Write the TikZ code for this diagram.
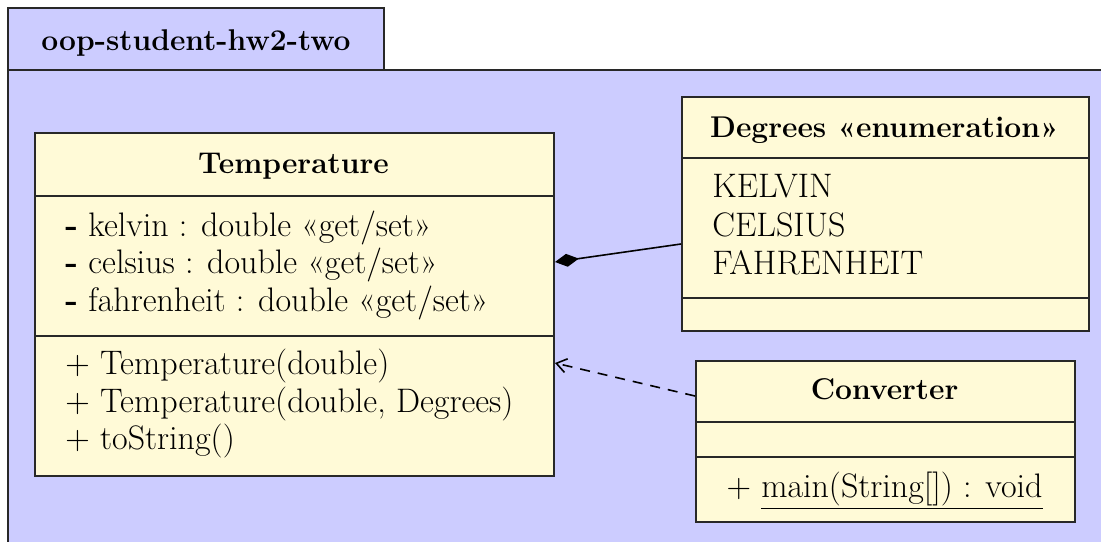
\documentclass[tikz,border=0pt]{standalone}
\usepackage{fontspec}
\usetikzlibrary{arrows.meta}
\definecolor{pkgfill}{RGB}{204,204,255}
\definecolor{clsfill}{RGB}{255,250,215}
\definecolor{edge}{RGB}{40,40,40}
\tikzset{
  classbox/.style={draw=edge, line width=1pt, fill=clsfill, rectangle, anchor=north west, inner sep=0pt},
  pkgbox/.style={draw=edge, line width=1pt, fill=pkgfill},
  divider/.style={draw=edge, line width=1pt},
  txt/.style={inner sep=0pt, anchor=base west, font=\fontsize{17}{20}\selectfont},
  ttl/.style={inner sep=0pt, anchor=base, font=\fontsize{15}{18}\selectfont\bfseries},
  conn/.style={draw=black, line width=0.8pt}
}
\begin{document}
\begin{tikzpicture}[x=0.5pt,y=-0.5pt]
\useasboundingbox (0,0) rectangle (1101,541);
\clip (0,0) rectangle (1101,541);
\fill[white] (0,0) rectangle (1101,541);
% package
\draw[pkgbox] (8,70) rectangle (1120,560);
\draw[pkgbox] (8,8) rectangle (384,70);
\node[ttl] (pkgname) at (196,50) {oop-student-hw2-two};
% Temperature
\node[classbox, minimum width=259.5pt, minimum height=171.5pt] (temp) at (34,132) {};
\draw[divider] (temp.west |- 0,196) -- (temp.east |- 0,196);
\draw[divider] (temp.west |- 0,336) -- (temp.east |- 0,336);
\node[ttl] (tempname) at (293.5,173) {Temperature};
\node[txt] (a1) at (65,236) {\textbf{-} kelvin : double «get/set»};
\node[txt] (a2) at (65,273) {\textbf{-} celsius : double «get/set»};
\node[txt] (a3) at (65,311) {\textbf{-} fahrenheit : double «get/set»};
\node[txt] (m1) at (65,374) {+ Temperature(double)};
\node[txt] (m2) at (65,412) {+ Temperature(double, Degrees)};
\node[txt] (m3) at (65,449) {+ toString()};
% Degrees
\node[classbox, minimum width=203.5pt, minimum height=117pt] (deg) at (681,96) {};
\draw[divider] (deg.west |- 0,158) -- (deg.east |- 0,158);
\draw[divider] (deg.west |- 0,298) -- (deg.east |- 0,298);
\node[ttl] (degname) at (884.5,137) {Degrees «enumeration»};
\node[txt] (l1) at (712,197) {KELVIN};
\node[txt] (l2) at (712,236) {CELSIUS};
\node[txt] (l3) at (712,274) {FAHRENHEIT};
% Converter
\node[classbox, minimum width=189.5pt, minimum height=80.5pt] (conv) at (695,360) {};
\draw[divider] (conv.west |- 0,422) -- (conv.east |- 0,422);
\draw[divider] (conv.west |- 0,457) -- (conv.east |- 0,457);
\node[ttl] (convname) at (884.5,399) {Converter};
\node[txt, anchor=base] (cm1) at (884.5,497) {+ \underline{main(String[]) : void}};
% connectors
\draw[conn, {Diamond[length=12pt,width=6.5pt]}-] (temp.east |- 0,262) -- (deg.west |- 0,244);
\draw[conn, dash pattern=on 5pt off 4pt, -{Straight Barb[length=5pt,width=7pt]}] (conv.west |- 0,396) -- (temp.east |- 0,363);
\end{tikzpicture}
\end{document}
